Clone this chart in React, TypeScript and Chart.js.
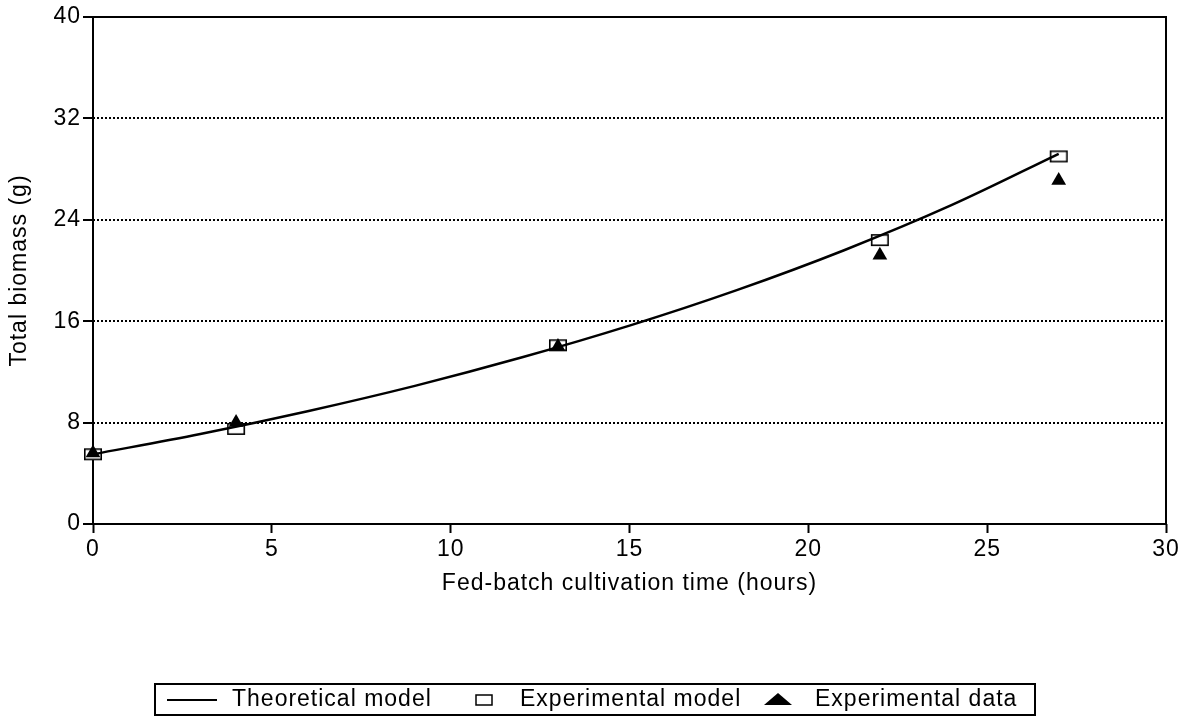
import React, { useEffect, useRef } from "react";
import { Chart, registerables } from "chart.js";

Chart.register(...registerables);

// ---- data ----
const theoryTime = [0, 3, 6, 9, 12, 15, 18, 21, 24, 27];
const theoryBiomass = [5.5, 7.1, 8.9, 10.9, 13.15, 15.65, 18.45, 21.6, 25.15, 29.2];
const expTime = [0, 4, 13, 22, 27];
const expModelBiomass = [5.5, 7.5, 14.1, 22.4, 29.0];
const expDataBiomass = [5.6, 8.0, 14.0, 21.2, 27.1];
const xTicks = [0, 5, 10, 15, 20, 25, 30];
const yTicks = [0, 8, 16, 24, 32, 40];
const legendLabels = ["Theoretical model", "Experimental model", "Experimental data"];
const xTitle = "Fed-batch cultivation time (hours)";
const yTitle = "Total biomass (g)";

const FONT = "'Liberation Sans', Arial, Helvetica, sans-serif";

function makeRectMarker(w: number, h: number, lw: number): HTMLCanvasElement {
  const c = document.createElement("canvas");
  c.width = w + 2;
  c.height = h + 2;
  const g = c.getContext("2d")!;
  g.fillStyle = "#fff";
  g.fillRect(1, 1, w, h);
  g.strokeStyle = "#000";
  g.lineWidth = lw;
  g.strokeRect(1 + lw / 2, 1 + lw / 2, w - lw, h - lw);
  return c;
}

export default function App() {
  const ref = useRef<HTMLCanvasElement | null>(null);

  useEffect(() => {
    if (!ref.current) return;
    document.body.style.margin = "0";

    const spacingPlugin = {
      id: "spacing",
      beforeDraw(chart: any) {
        try {
          (chart.ctx as any).letterSpacing = "1px";
        } catch (e) {}
      },
    };

    const framePlugin = {
      id: "frame",
      beforeDatasetsDraw(chart: any) {
        const { ctx, chartArea } = chart;
        ctx.save();
        ctx.strokeStyle = "#000";
        ctx.lineWidth = 2;
        ctx.setLineDash([]);
        ctx.strokeRect(chartArea.left, chartArea.top, chartArea.right - chartArea.left, chartArea.bottom - chartArea.top);
        ctx.restore();
      },
    };

    const legendPlugin = {
      id: "customLegend",
      afterDraw(chart: any) {
        const ctx = chart.ctx;
        ctx.save();
        (ctx as any).letterSpacing = "1px";
        ctx.strokeStyle = "#000";
        ctx.lineWidth = 2;
        ctx.setLineDash([]);
        ctx.strokeRect(155, 684, 880, 31);
        const cy = 700;
        ctx.beginPath();
        ctx.moveTo(167, cy);
        ctx.lineTo(217, cy);
        ctx.stroke();
        ctx.font = `23px ${FONT}`;
        ctx.fillStyle = "#000";
        ctx.textBaseline = "middle";
        ctx.textAlign = "left";
        ctx.fillText(legendLabels[0], 232, cy);
        ctx.lineWidth = 1.5;
        ctx.fillStyle = "#fff";
        ctx.fillRect(476, cy - 5, 16, 10);
        ctx.strokeRect(476, cy - 5, 16, 10);
        ctx.fillStyle = "#000";
        ctx.fillText(legendLabels[1], 520, cy);
        ctx.beginPath();
        ctx.moveTo(778, cy - 7);
        ctx.lineTo(792, cy + 5);
        ctx.lineTo(764, cy + 5);
        ctx.closePath();
        ctx.fill();
        ctx.fillText(legendLabels[2], 815, cy);
        ctx.restore();
      },
    };

    const rectMarker = makeRectMarker(18, 12, 1.6);

    const chart = new Chart(ref.current, {
      type: "line",
      data: {
        datasets: [
          {
            label: legendLabels[0],
            data: theoryTime.map((t, i) => ({ x: t, y: theoryBiomass[i] })),
            borderColor: "#000",
            borderWidth: 2.5,
            pointRadius: 0,
            cubicInterpolationMode: "monotone",
            fill: false,
            clip: false as any,
            order: 1,
          },
          {
            label: legendLabels[1],
            data: expTime.map((t, i) => ({ x: t, y: expModelBiomass[i] })),
            showLine: false,
            pointStyle: rectMarker as any,
            pointRadius: 9,
            clip: false as any,
            order: 3,
          },
          {
            label: legendLabels[2],
            data: expTime.map((t, i) => ({ x: t, y: expDataBiomass[i] })),
            showLine: false,
            pointStyle: "triangle",
            pointRadius: 8.5,
            pointBackgroundColor: "#000",
            pointBorderColor: "#000",
            pointBorderWidth: 0,
            clip: false as any,
            order: 2,
          },
        ],
      },
      options: {
        responsive: false,
        animation: false,
        devicePixelRatio: 1,
        events: [],
        layout: { padding: { left: 0, top: 17, right: 27, bottom: 119 } },
        plugins: {
          legend: { display: false },
          tooltip: { enabled: false },
          title: { display: false },
        },
        scales: {
          x: {
            type: "linear",
            min: 0,
            max: 30,
            afterBuildTicks: (s: any) => {
              s.ticks = xTicks.map((v) => ({ value: v }));
            },
            afterFit: (s: any) => {
              s.height = 73;
            },
            border: { display: false },
            grid: {
              drawOnChartArea: false,
              drawTicks: true,
              tickLength: 9,
              tickColor: "#000",
              tickWidth: 2,
              color: "#000",
            },
            ticks: {
              color: "#000",
              font: { family: FONT, size: 23 },
              padding: 3,
              maxRotation: 0,
              autoSkip: false,
            },
            title: {
              display: true,
              text: xTitle,
              color: "#000",
              font: { family: FONT, size: 23 },
              padding: { top: 0, bottom: 0 },
            },
          },
          y: {
            type: "linear",
            min: 0,
            max: 40,
            afterBuildTicks: (s: any) => {
              s.ticks = yTicks.map((v) => ({ value: v }));
            },
            afterFit: (s: any) => {
              s.width = 93;
            },
            border: { display: false, dash: [2, 2] },
            grid: {
              drawOnChartArea: true,
              drawTicks: true,
              tickLength: 10,
              tickColor: "#000",
              tickWidth: 2,
              tickBorderDash: [],
              lineWidth: 2,
              color: (c: any) =>
                c.tick && (c.tick.value === 0 || c.tick.value === 40) ? "rgba(0,0,0,0)" : "#000",
            },
            ticks: {
              color: "#000",
              font: { family: FONT, size: 23 },
              padding: 2,
              autoSkip: false,
            },
            title: {
              display: true,
              text: yTitle,
              color: "#000",
              font: { family: FONT, size: 23 },
              padding: { top: 6, bottom: 0 },
            },
          },
        },
      },
      plugins: [spacingPlugin, framePlugin, legendPlugin],
    } as any);

    return () => chart.destroy();
  }, []);

  return (
    <div style={{ position: "fixed", left: 0, top: 0, width: 1193, height: 716, background: "#fff" }}>
      <canvas ref={ref} width={1193} height={716} style={{ display: "block" }} />
    </div>
  );
}
